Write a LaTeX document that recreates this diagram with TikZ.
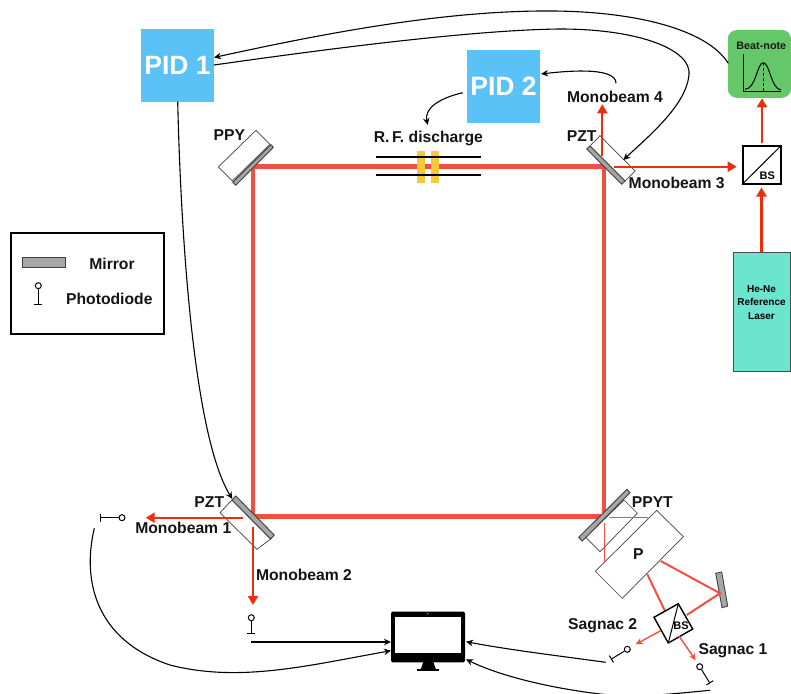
\documentclass[tikz,border=0pt]{standalone}
\usepackage{fontspec}
\setmainfont{Liberation Sans}
\usetikzlibrary{arrows.meta}
\definecolor{beam}{HTML}{F0503F}
\definecolor{arrowred}{HTML}{EE2E0B}
\definecolor{pidblue}{HTML}{5BC2F8}
\definecolor{beatgreen}{HTML}{66C76A}
\definecolor{lasergreen}{HTML}{6CE5CF}
\definecolor{ragold}{HTML}{F5C93C}
\definecolor{mirrorgrey}{HTML}{A6A6A6}
\tikzset{
  lab/.style={font=\fontsize{15.7}{18}\selectfont\bfseries,text=black!92,inner sep=0pt},
  pidbox/.style={fill=pidblue,minimum width=73pt,minimum height=73pt,inner sep=0pt,text=white,font=\fontsize{26.5}{30}\selectfont\bfseries},
  wire/.style={black,line width=1.1pt},
  wirearrow/.style={wire,-{Stealth[length=7pt,width=6.5pt]}},
  redarrow/.style={arrowred,line width=2.2pt,-{Triangle[length=9pt,width=10pt]}},
  thinred/.style={beam,line width=1.4pt,-{Stealth[length=7pt,width=6.5pt]}},
  mirror/.style={fill=mirrorgrey,draw=black!75,line width=.9pt},
  holder/.style={draw=black!75,line width=.7pt},
  pdcirc/.style={circle,draw=black,line width=1pt,fill=white,minimum size=6pt,inner sep=0pt},
  pdline/.style={black,line width=1pt,-{Bar[width=8pt,length=1pt]}},
  ringbeam/.style={beam,line width=4.4pt,line join=miter},
  sbeam/.style={beam,line width=2pt},
  tbeam/.style={beam,line width=1pt},
}
\begin{document}
\begin{tikzpicture}[x=1pt,y=-1pt]
\useasboundingbox (0,0) rectangle (791,693);
% ring
\coordinate (ringA) at (253,166.5);
\coordinate (ringB) at (604,166.5);
\coordinate (ringC) at (604,516.5);
\coordinate (ringD) at (253,516.5);
\draw[ringbeam] (ringA) -- (ringB) -- (ringC) -- (ringD) -- cycle;
% RF discharge
\fill[ragold] (417,151) rectangle (425,182.7);
\fill[ragold] (431,151) rectangle (439,182.7);
\coordinate (rfa) at (376,157.3); \coordinate (rfb) at (480.7,157.3);
\coordinate (rfc) at (376,175.3); \coordinate (rfd) at (480.7,175.3);
\draw[black,line width=1.7pt] (rfa) -- (rfb);
\draw[black,line width=1.7pt] (rfc) -- (rfd);
\node[lab] (rf) at (428.3,138.7) {R.\,F. discharge};
% mirrors
\draw[holder] (256,130.3) -- (270,144.3) -- (232.3,181) -- (218.3,167) -- cycle;
\draw[mirror] (271,144.7) -- (273.3,147.3) -- (235.7,185.3) -- (232.7,182.3) -- cycle;
\draw[holder] (590,146) -- (600,135.7) -- (635,171) -- (625,181) -- cycle;
\draw[mirror] (586.7,149) -- (590,146) -- (625,181) -- (621.7,184.3) -- cycle;
\draw[holder] (232,500) -- (270.7,539) -- (257,549.3) -- (220,512.7) -- cycle;
\draw[mirror] (235.7,496) -- (274.3,535) -- (270.7,539) -- (232,500) -- cycle;
\draw[holder] (624,500) -- (637.3,513.3) -- (600,551.7) -- (585.7,537.3) -- cycle;
\draw[mirror] (627,489.3) -- (630,492.7) -- (582.3,541) -- (578.7,537.3) -- cycle;
% labels
\node[lab] (ppy) at (229.3,135.3) {PPY};
\node[lab] (pztur) at (581.7,135.7) {PZT};
\node[lab] (pztll) at (209.3,502.3) {PZT};
\node[lab] (ppyt) at (652.3,502.3) {PPYT};
\node[lab] (mb1) at (183.3,528.3) {Monobeam 1};
\node[lab] (mb2) at (304,574.7) {Monobeam 2};
\node[lab] (mb3) at (676.7,183.3) {Monobeam 3};
\node[lab] (mb4) at (615,96.7) {Monobeam 4};
\node[lab] (sag2) at (602.7,625.7) {Sagnac 2};
\node[lab] (sag1) at (733,650.7) {Sagnac 1};
% PIDs
\node[pidbox] (pid1) at (177.5,65.3) {PID 1};
\node[pidbox] (pid2) at (503.5,86.5) {PID 2};
% beat note
\node[fill=beatgreen,rounded corners=9pt,minimum width=63.3pt,minimum height=67.7pt,inner sep=0pt] (beat) at (759.4,63.9) {};
\node[font=\fontsize{10.8}{12}\selectfont\bfseries,inner sep=0pt,text=black!90] (beatlab) at (761.3,46) {Beat-note};
\draw[black,line width=1pt] (743,54) -- (743,91) -- (781,91);
\draw[black,line width=1pt] (745,89.3) .. controls (756,89) and (757,62.7) .. (763.3,62.7) .. controls (769.6,62.7) and (771,89) .. (781,90);
\draw[black,line width=.7pt,densely dashed] (763.3,62.7) -- (763.3,91);
% beam splitter top right
\node[draw=black,line width=1.6pt,fill=white,minimum width=38pt,minimum height=37.7pt,inner sep=0pt] (bs) at (761.7,164.9) {};
\draw[black,line width=1pt] (bs.south west) -- (bs.north east);
\node[font=\fontsize{11}{12}\selectfont\bfseries,inner sep=0pt] (bslab) at (767.3,176) {BS};
% laser
\node[fill=lasergreen,draw=black!70,line width=.4pt,minimum width=57pt,minimum height=119pt,inner sep=0pt] (laser) at (761.5,311.5) {};
\node[align=center,inner sep=0pt,font=\fontsize{10}{13.2}\selectfont\bfseries] (laserlab) at (761.5,302.5) {He-Ne\\Reference\\Laser};
% red arrows
\coordinate (mb1s) at (242.7,517.7); \coordinate (mb1e) at (145.7,517.7);
\coordinate (mb2s) at (253,527); \coordinate (mb2e) at (253,605);
\coordinate (mb3s) at (614,166.7); \coordinate (mb3e) at (736.7,166.7);
\coordinate (mb4s) at (602.3,156); \coordinate (mb4e) at (602.3,104.3);
\coordinate (las) at (761.5,252); \coordinate (bsb) at (761.5,187.5);
\coordinate (bst) at (762,143.3); \coordinate (bne) at (762,98.3);
\draw[redarrow] (mb1s) -- (mb1e);
\draw[redarrow] (mb2s) -- (mb2e);
\draw[redarrow] (mb4s) -- (mb4e);
\draw[redarrow] (mb3s) -- (mb3e);
\draw[redarrow] (las) -- (bsb);
\draw[redarrow] (bst) -- (bne);
% prism P
\node[lab] (plab) at (638.3,554) {P};
\draw[holder] (656.7,510.3) -- (683.3,536.7) -- (622.3,598.3) -- (595.3,571.3) -- cycle;
\coordinate (tb1) at (610,517.3); \coordinate (tb2) at (648,517.3);
\coordinate (tb3) at (604,522.7); \coordinate (tb4) at (604,561.7);
\draw[tbeam] (tb1) -- (tb2);
\draw[tbeam] (tb3) -- (tb4);
% small mirror, BS
\draw[mirror] (715.7,573.3) -- (721.7,572) -- (727.7,606) -- (722,607.7) -- cycle;
\coordinate (pr1) at (660.7,561); \coordinate (mir) at (720,593.3);
\coordinate (pr2) at (647.3,574.3); \coordinate (bsin) at (665,611); \coordinate (bsin2) at (686.7,615);
\draw[sbeam] (pr1) -- (mir) -- (bsin2);
\draw[sbeam] (pr2) -- (bsin);
\draw[black,line width=1.4pt,fill=white] (654,617.3) -- (678.3,603.7) -- (692.7,629) -- (668.3,643) -- cycle;
\draw[black,line width=1pt] (678.3,603.7) -- (668.3,643);
\node[font=\fontsize{11}{12}\selectfont\bfseries,inner sep=0pt] (bs2) at (681,626) {BS};
\coordinate (a1) at (660.7,630.7); \coordinate (a2) at (635.7,644.3);
\coordinate (a3) at (679,636); \coordinate (a4) at (695.7,660.3);
\draw[thinred] (a1) -- (a2);
\draw[thinred] (a3) -- (a4);
% photodiodes
\node[pdcirc] (pd1) at (122,517.7) {}; \coordinate (pd1b) at (100,517.7);
\node[pdcirc] (pd2) at (251.3,617.7) {}; \coordinate (pd2b) at (251.3,634);
\node[pdcirc] (pd3) at (627.3,649.3) {}; \coordinate (pd3b) at (611,659.3);
\node[pdcirc] (pd4) at (699.7,666.7) {}; \coordinate (pd4b) at (710,683.3);
\draw[pdline] (pd1) -- (pd1b);
\draw[pdline] (pd2) -- (pd2b);
\draw[pdline] (pd3) -- (pd3b);
\draw[pdline] (pd4) -- (pd4b);
% monitor
\node[fill=black,rounded corners=1.5pt,minimum width=74pt,minimum height=50.6pt,inner sep=0pt] (mon) at (428,637) {};
\fill[white] (395,616.7) rectangle (461,653.3);
\fill[black] (423.3,662) -- (433.3,662) -- (436,669.5) -- (420.7,669.5) -- cycle;
\fill[black] (417.3,669.3) rectangle (439,671.3);
\fill[black!40] (427.7,613.7) circle (.8pt);
% wires
\coordinate (beatw) at (728.3,63.3);
\coordinate (pid1in) at (214,57.5);
\coordinate (pid1out) at (214,65);
\coordinate (pztin) at (623.3,160);
\coordinate (pid1b) at (177.7,101.7);
\coordinate (llin) at (232.3,499);
\coordinate (pid2l) at (462.7,92.7);
\coordinate (rfin) at (427.7,125);
\coordinate (m4w) at (616,83.3);
\coordinate (pid2r) at (541,74);
\coordinate (w1s) at (94.3,528.3); \coordinate (w1e) at (391,650.7);
\coordinate (w2s) at (251,642); \coordinate (w2e) at (391,642);
\coordinate (w3s) at (605.7,662.3); \coordinate (w3e) at (466,641.7);
\coordinate (w4s) at (710,690.3); \coordinate (w4e) at (466,659.3);
\draw[wirearrow] (beatw) .. controls (706,28) and (630,10) .. (540,11) .. controls (440,12) and (330,32) .. (pid1in);
\draw[wirearrow] (pid1out) .. controls (320,50) and (470,30) .. (560,29) .. controls (640,29) and (692,50) .. (689,75) .. controls (686,105) and (650,135) .. (pztin);
\draw[wirearrow] (pid1b) .. controls (180,200) and (190,430) .. (llin);
\draw[wirearrow] (pid2l) .. controls (440,98) and (424,108) .. (rfin);
\draw[wirearrow] (m4w) .. controls (616,68) and (575,70) .. (pid2r);
\draw[wirearrow] (w1s) .. controls (82,580) and (95,640) .. (170,665) .. controls (240,683) and (310,665) .. (w1e);
\draw[wirearrow] (w2s) -- (w2e);
\draw[wirearrow] (w3s) .. controls (560,656) and (510,650) .. (w3e);
\draw[wirearrow] (w4s) .. controls (670,694) and (640,698) .. (600,694) .. controls (550,688) and (500,676) .. (w4e);
% legend
\node[draw=black,line width=2pt,minimum width=153.3pt,minimum height=100.7pt,inner sep=0pt] (legend) at (87.6,283.6) {};
\draw[mirror] (22.3,257.7) rectangle (65,267.7);
\node[lab] (lm) at (112,263.7) {Mirror};
\node[pdcirc] (lpd) at (38.3,285.7) {}; \coordinate (lpdb) at (38.3,304.7);
\draw[pdline] (lpd) -- (lpdb);
\node[lab] (lp) at (109.3,299.3) {Photodiode};
\end{tikzpicture}
\end{document}
